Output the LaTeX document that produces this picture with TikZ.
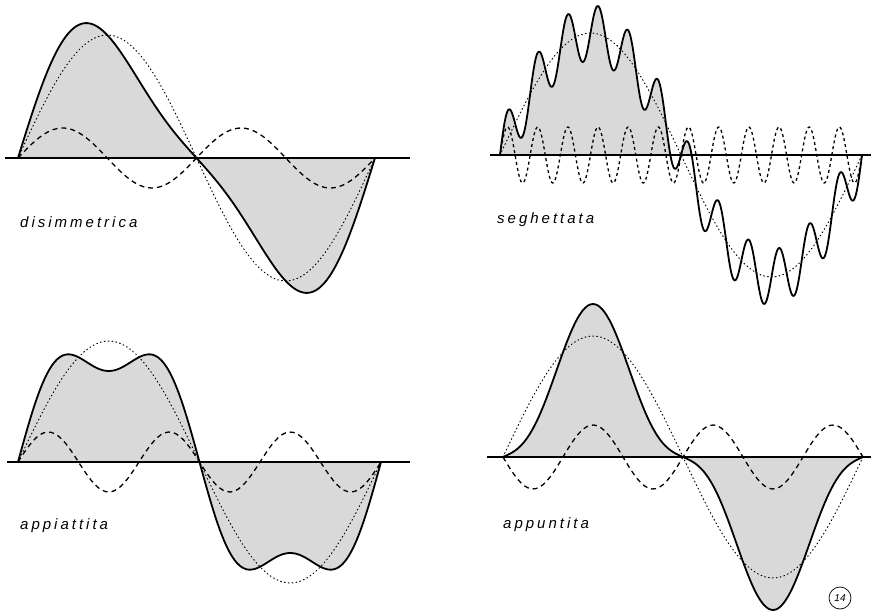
\documentclass[tikz,border=0pt]{standalone}
\usepackage{fontspec}
\newfontfamily\wavefont[LetterSpace=20]{Liberation Sans}
\newfontfamily\numfont{Liberation Sans}
\usepackage{tikz}
\usetikzlibrary{positioning}
\tikzstyle{axisline} = [line width=1.1pt]
\tikzstyle{fundamental} = [line width=1pt, dash pattern=on 0.9pt off 3pt, line cap=round]
\tikzstyle{harmonic} = [line width=1.3pt, dash pattern=on 5pt off 4pt]
\tikzstyle{result} = [line width=1.8pt, line join=round]
\tikzstyle{wavefill} = [fill=black!15]
\tikzstyle{wavelabel} = [anchor=west, inner sep=0pt, font=\wavefont\itshape\fontsize{15}{17}\selectfont]

\begin{document}
\begin{tikzpicture}[x=1pt, y=-1pt]
\useasboundingbox (0,0) rectangle (871,615);

% disimmetrica: fundamental + 2nd harmonic
\coordinate (a1l) at (5,158);
\coordinate (a1r) at (410,158);
\fill [wavefill] plot[domain=0:360, samples=150] ({18+\x/360*357}, {158-123*sin(\x)-30*sin(2*\x)}) -- cycle;
\draw [fundamental] plot[domain=0:360, samples=100] ({18+\x/360*357}, {158-123*sin(\x)});
\draw [harmonic] plot[domain=0:360, samples=100] ({18+\x/360*357}, {158-30*sin(2*\x)});
\draw [axisline] (a1l) -- (a1r);
\draw [result] plot[domain=0:360, samples=150] ({18+\x/360*357}, {158-123*sin(\x)-30*sin(2*\x)});
\node [wavelabel] (l1) at (20,222) {disimmetrica};

% seghettata: fundamental + 12th harmonic
\coordinate (a2l) at (490,155);
\coordinate (a2r) at (871,155);
\begin{scope}
\clip (490,0) rectangle (871,155);
\fill [wavefill] plot[domain=0:360, samples=400] ({500+\x/360*362}, {155-122*sin(\x)-28*sin(12*\x)}) -- cycle;
\end{scope}
\draw [fundamental] plot[domain=0:360, samples=100] ({500+\x/360*362}, {155-122*sin(\x)});
\draw [harmonic, dash pattern=on 3pt off 3pt] plot[domain=0:360, samples=400] ({500+\x/360*362}, {155-28*sin(12*\x)});
\draw [axisline] (a2l) -- (a2r);
\draw [result] plot[domain=0:360, samples=400] ({500+\x/360*362}, {155-122*sin(\x)-28*sin(12*\x)});
\node [wavelabel] (l2) at (497,220) {seghettata};

% appiattita: fundamental + 3rd harmonic
\coordinate (a3l) at (7,462);
\coordinate (a3r) at (410,462);
\fill [wavefill] plot[domain=0:360, samples=150] ({18+\x/360*363}, {462-121*sin(\x)-30*sin(3*\x)}) -- cycle;
\draw [fundamental] plot[domain=0:360, samples=100] ({18+\x/360*363}, {462-121*sin(\x)});
\draw [harmonic] plot[domain=0:360, samples=100] ({18+\x/360*363}, {462-30*sin(3*\x)});
\draw [axisline] (a3l) -- (a3r);
\draw [result] plot[domain=0:360, samples=150] ({18+\x/360*363}, {462-121*sin(\x)-30*sin(3*\x)});
\node [wavelabel] (l3) at (20,526) {appiattita};

% appuntita: fundamental - 3rd harmonic
\coordinate (a4l) at (487,457);
\coordinate (a4r) at (871,457);
\fill [wavefill] plot[domain=0:360, samples=150] ({503+\x}, {457-121*sin(\x)+32*sin(3*\x)}) -- cycle;
\draw [fundamental] plot[domain=0:360, samples=100] ({503+\x}, {457-121*sin(\x)});
\draw [harmonic] plot[domain=0:360, samples=100] ({503+\x}, {457+32*sin(3*\x)});
\draw [axisline] (a4l) -- (a4r);
\draw [result] plot[domain=0:360, samples=150] ({503+\x}, {457-121*sin(\x)+32*sin(3*\x)});
\node [wavelabel] (l4) at (503,525) {appuntita};

\node [circle, draw, line width=0.7pt, minimum size=22pt, inner sep=0pt, font=\numfont\itshape\fontsize{10}{11}\selectfont] (fig) at (840,598) {14};
\end{tikzpicture}
\end{document}
